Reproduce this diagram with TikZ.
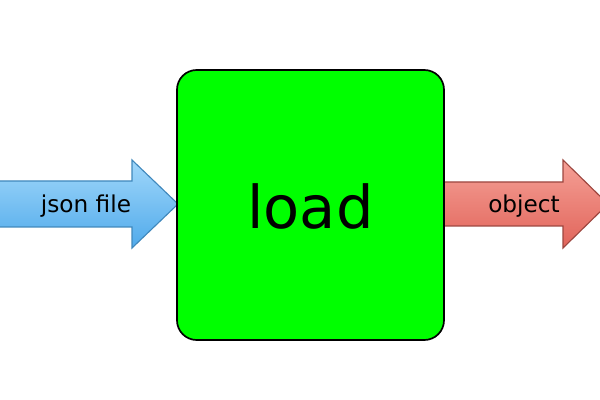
\documentclass[tikz,border=0pt]{standalone}
\usepackage{fontspec}
\setmainfont{DejaVu Sans}
\usetikzlibrary{positioning}
\definecolor{boxgreen}{RGB}{0,255,0}
\definecolor{inblue}{RGB}{80,170,235}
\definecolor{inblueL}{RGB}{160,215,250}
\definecolor{outred}{RGB}{225,100,90}
\definecolor{outredL}{RGB}{245,160,150}
\begin{document}
\begin{tikzpicture}[x=0.025cm,y=-0.025cm,
        block/.style={draw=black, line width=1.2pt, fill=boxgreen, rounded corners=14pt},
        label/.style={font=\fontsize{16.5}{19}\selectfont, text=black}
    ]
        \useasboundingbox (0,0) rectangle (600,400);
        % input arrow
        \draw[draw=inblue!80!black, line width=0.8pt, top color=inblueL, bottom color=inblue]
            (-10,181) -- (132,181) -- (132,160) -- (178,204) -- (132,248) -- (132,227) -- (-10,227) -- cycle;
        % output arrow
        \draw[draw=outred!70!black, line width=0.8pt, top color=outredL, bottom color=outred]
            (444,182) -- (563,182) -- (563,160) -- (608,204) -- (563,248) -- (563,226) -- (444,226) -- cycle;
        % load box
        \draw[block] (177,70) rectangle (444,340);
        \node (load) at (310.5,206) {\fontsize{42}{46}\selectfont load};
        \node[label] (json) at (86,206) {json file};
        \node[label] (obj) at (524,206) {object};
\end{tikzpicture}
\end{document}
